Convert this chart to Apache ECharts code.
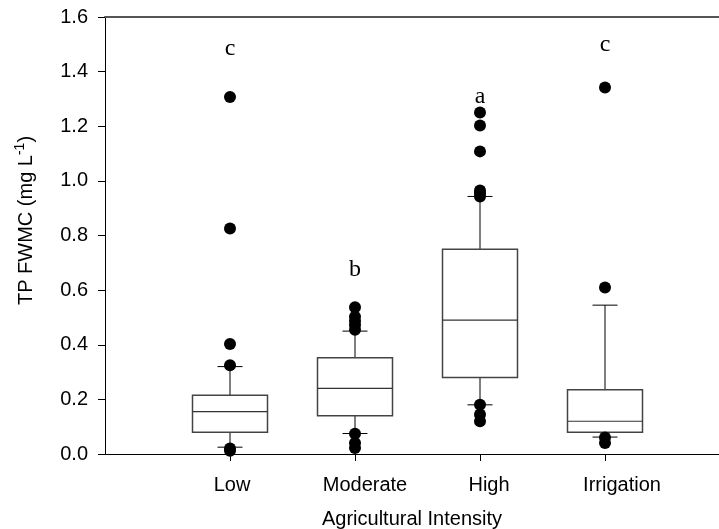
<!DOCTYPE html>
<html>
<head>
<meta charset="utf-8">
<script src="https://cdn.jsdelivr.net/npm/echarts@6/dist/echarts.min.js"></script>
<style>html,body{margin:0;padding:0;background:#fff;}#c{width:719px;height:529px;}</style>
</head>
<body>
<div id="c"></div>
<script>
const categories = ['Low', 'Moderate', 'High', 'Irrigation'];
const lowerWhisker = [0.025, 0.075, 0.18, 0.062];
const q1 = [0.08, 0.14, 0.28, 0.08];
const median = [0.155, 0.24, 0.49, 0.12];
const q3 = [0.215, 0.352, 0.75, 0.235];
const upperWhisker = [0.32, 0.45, 0.943, 0.545];
const outliers = [
  [1.307, 0.826, 0.403, 0.325, 0.02, 0.012],
  [0.537, 0.503, 0.487, 0.472, 0.455, 0.074, 0.04, 0.022],
  [1.25, 1.203, 1.108, 0.965, 0.955, 0.943, 0.18, 0.145, 0.12],
  [1.342, 0.61, 0.06, 0.04]
];
const letters = ['c', 'b', 'a', 'c'];
const letterPos = [1.485, 0.675, 1.31, 1.50];

const boxData = categories.map((c, i) => [i + 1, lowerWhisker[i], q1[i], median[i], q3[i], upperWhisker[i]]);
const outlierData = [];
outliers.forEach((arr, i) => arr.forEach(v => outlierData.push([i + 1, v])));
const letterData = letters.map((l, i) => [i + 1, letterPos[i], l]);
const labelPad = [4, 20, 18, 34];
const FONT = 'Liberation Sans';

const rich = {};
categories.forEach((c, i) => {
  rich['l' + i] = {fontFamily: FONT, fontSize: 20, color: '#000', padding: [0, 0, 0, labelPad[i]]};
});

const chart = echarts.init(document.getElementById('c'), null, {renderer: 'canvas'});
chart.setOption({
  animation: false,
  backgroundColor: '#fff',
  grid: {left: 105, right: 0, top: 17, bottom: 75, containLabel: false, outerBoundsMode: 'none'},
  xAxis: [{
    type: 'value', min: 0, max: 4.912, interval: 1,
    axisLine: {show: true, lineStyle: {color: '#000', width: 1}},
    axisTick: {show: true, length: 7, lineStyle: {color: '#000'}},
    splitLine: {show: false},
    axisLabel: {
      margin: 21, showMaxLabel: false, showMinLabel: false,
      formatter: v => {
        const i = Math.round(v) - 1;
        if (i < 0 || i >= categories.length) return '';
        return '{l' + i + '|' + categories[i] + '}';
      },
      rich: rich
    },
    name: 'Agricultural Intensity', nameLocation: 'middle', nameGap: 55,
    nameTextStyle: {fontFamily: FONT, fontSize: 20, color: '#000'}
  }, {
    type: 'value', position: 'top', min: 0, max: 4.912,
    axisLine: {show: true, lineStyle: {color: '#555', width: 2}},
    axisTick: {show: false}, axisLabel: {show: false}, splitLine: {show: false}
  }],
  yAxis: {
    type: 'value', min: 0, max: 1.6, interval: 0.2,
    axisLine: {show: true, lineStyle: {color: '#000', width: 1}},
    axisTick: {show: true, length: 7, lineStyle: {color: '#000'}},
    splitLine: {show: false},
    axisLabel: {
      margin: 17, fontFamily: FONT, fontSize: 20, color: '#000',
      formatter: v => v.toFixed(1)
    },
    name: 'TP FWMC (mg L{sup|-1})',
    nameLocation: 'middle', nameGap: 66, nameRotate: 90,
    nameTextStyle: {
      fontFamily: FONT, fontSize: 20, color: '#000', lineHeight: 26,
      padding: [0, 0, 0, 30],
      rich: {sup: {fontFamily: FONT, fontSize: 14, color: '#000', verticalAlign: 'top', lineHeight: 26, padding: [0, 0, 8, 0]}}
    }
  },
  series: [{
    type: 'custom',
    data: boxData,
    encode: {x: 0, y: [1, 2, 3, 4, 5]},
    renderItem: function (params, api) {
      const x = api.value(0);
      const unit = api.size([1, 0])[0];
      const bw = unit * 0.3, cw = unit * 0.1;
      const pLo = api.coord([x, api.value(1)]);
      const pQ1 = api.coord([x, api.value(2)]);
      const pMd = api.coord([x, api.value(3)]);
      const pQ3 = api.coord([x, api.value(4)]);
      const pHi = api.coord([x, api.value(5)]);
      const cx = pMd[0];
      const black = {stroke: '#000', lineWidth: 1, fill: null};
      const gray = {stroke: '#444', lineWidth: 1.5, fill: '#fff'};
      return {
        type: 'group',
        children: [
          {type: 'line', shape: {x1: cx, y1: pQ3[1], x2: cx, y2: pHi[1]}, style: black},
          {type: 'line', shape: {x1: cx, y1: pQ1[1], x2: cx, y2: pLo[1]}, style: black},
          {type: 'line', shape: {x1: cx - cw, y1: pHi[1], x2: cx + cw, y2: pHi[1]}, style: black},
          {type: 'line', shape: {x1: cx - cw, y1: pLo[1], x2: cx + cw, y2: pLo[1]}, style: black},
          {type: 'rect', shape: {x: cx - bw, y: pQ3[1], width: 2 * bw, height: pQ1[1] - pQ3[1]}, style: gray},
          {type: 'line', shape: {x1: cx - bw, y1: pMd[1], x2: cx + bw, y2: pMd[1]}, style: {stroke: '#333', lineWidth: 1.2}}
        ]
      };
    }
  }, {
    type: 'scatter',
    data: outlierData,
    symbol: 'circle', symbolSize: 12,
    itemStyle: {color: '#000', opacity: 1},
    z: 5
  }, {
    type: 'custom',
    data: letterData,
    encode: {x: 0, y: 1},
    renderItem: function (params, api) {
      const p = api.coord([api.value(0), api.value(1)]);
      return {
        type: 'text',
        style: {
          x: p[0], y: p[1], text: letters[params.dataIndex],
          fill: '#000', font: '24px "Liberation Serif"',
          align: 'center', verticalAlign: 'middle'
        }
      };
    }
  }]
});
</script>
</body>
</html>
